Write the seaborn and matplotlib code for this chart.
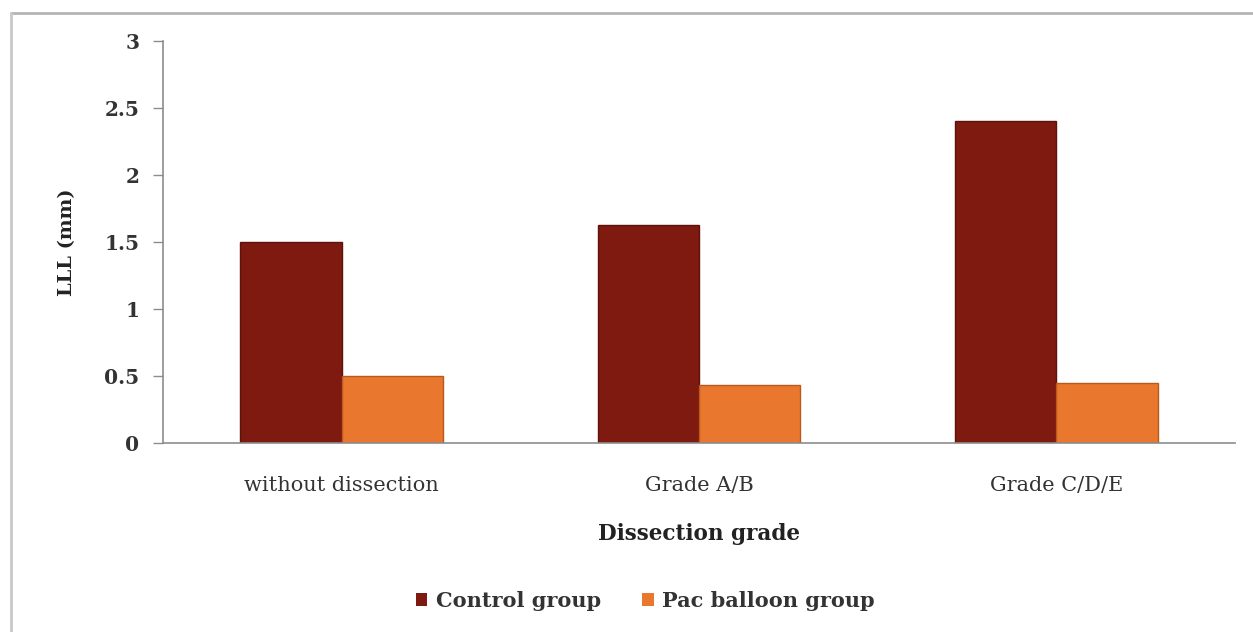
import matplotlib
matplotlib.use("Agg")
import matplotlib.pyplot as plt
from matplotlib.lines import Line2D
from matplotlib.patches import Patch
import seaborn as sns
import pandas as pd

# Mean LLL per dissection grade for each treatment group
categories = ["without dissection", "Grade A/B", "Grade C/D/E"]
groups = ["Control group", "Pac balloon group"]
control_values = [1.50, 1.63, 2.40]
balloon_values = [0.50, 0.43, 0.45]
y_ticks = [0, 0.5, 1, 1.5, 2, 2.5, 3]
y_tick_labels = ["0", "0.5", "1", "1.5", "2", "2.5", "3"]

colors = ["#7e1a10", "#ea772e"]
edge_colors = ["#5e120b", "#b85a20"]

rows = []
for cat, c, b in zip(categories, control_values, balloon_values):
    rows.append({"grade": cat, "group": groups[0], "LLL": c})
    rows.append({"grade": cat, "group": groups[1], "LLL": b})
df = pd.DataFrame(rows)

sns.set_theme(style="white")
plt.rcParams["font.family"] = ["DejaVu Serif"]

fig = plt.figure(figsize=(12.53, 6.32), dpi=100)
ax = fig.add_axes([0.1301, 0.299, 0.8555, 0.636])

sns.barplot(data=df, x="grade", y="LLL", hue="group", order=categories,
            hue_order=groups, palette=colors, width=0.567, saturation=1,
            errorbar=None, legend=False, ax=ax)

# darker outline per series
for container, ec in zip(ax.containers, edge_colors):
    for bar in container:
        bar.set_edgecolor(ec)
        bar.set_linewidth(1.0)

ax.set_xlim(-0.5, 2.5)
ax.set_ylim(0, 3)
ax.set_yticks(y_ticks)
ax.set_yticklabels(y_tick_labels, fontsize=14.5, fontweight="bold", color="#333333")

# category labels centred, tick marks at the category boundaries
ax.set_xticks(range(len(categories)))
ax.set_xticklabels(categories, fontsize=15, color="#333333")
ax.set_xticks([-0.5, 0.5, 1.5, 2.5], minor=True)
ax.tick_params(axis="x", which="major", length=0, pad=24)
ax.tick_params(axis="x", which="minor", length=6, width=1, color="#8c8c8c", direction="out")
ax.tick_params(axis="y", which="major", length=7, width=1, color="#8c8c8c", direction="out", pad=10, left=True)

for side in ["top", "right"]:
    ax.spines[side].set_visible(False)
for side in ["left", "bottom"]:
    ax.spines[side].set_color("#8c8c8c")
    ax.spines[side].set_linewidth(1.2)

ax.set_xlabel("Dissection grade", fontsize=15.5, fontweight="bold", color="#222222")
ax.set_ylabel("LLL (mm)", fontsize=14, fontweight="bold", color="#222222")
ax.xaxis.set_label_coords(0.5, -0.2)
ax.yaxis.set_label_coords(-0.081, 0.5)

handles = [Patch(facecolor=c, edgecolor="none") for c in colors]
fig.legend(handles, groups, loc="center", bbox_to_anchor=(0.515, 0.049), ncol=2,
           frameon=False, handlelength=0.55, handleheight=0.55, handletextpad=0.4,
           columnspacing=2.0, prop={"size": 15, "weight": "bold"}, labelcolor="#333333")

# outer frame lines
fig.add_artist(Line2D([11 / 1253, 1.0], [1 - 13 / 632, 1 - 13 / 632],
                      transform=fig.transFigure, color="#b4b4b4", lw=2))
fig.add_artist(Line2D([11 / 1253, 11 / 1253], [0.0, 1 - 13 / 632],
                      transform=fig.transFigure, color="#c8c8c8", lw=2))

fig.savefig("out.png", dpi=100, facecolor="white")
